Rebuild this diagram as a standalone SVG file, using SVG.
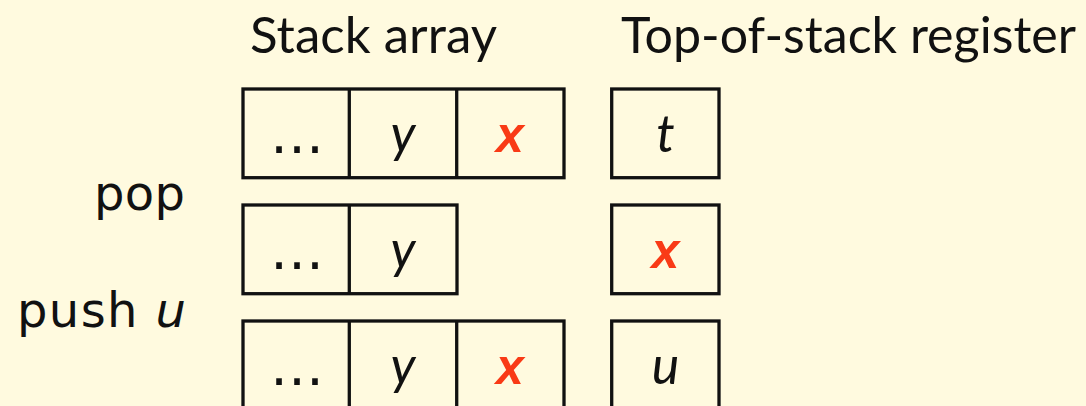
<svg xmlns="http://www.w3.org/2000/svg" width="1086" height="406" viewBox="0 0 1086 406">
<style>
.bg{fill:#FFFADF}
.box{fill:none;stroke:#111;stroke-width:3.3}
.hdr{font-family:Lato,"Open Sans",sans-serif;font-size:50px;fill:#111}
.op{font-family:"DejaVu Sans",sans-serif;font-size:48px;fill:#111}
.var{font-family:Lato,"Open Sans",sans-serif;font-style:italic;font-size:52px;fill:#111;text-anchor:middle}
.dots{font-family:"DejaVu Sans",sans-serif;font-size:54px;fill:#111;text-anchor:middle}
.red{font-family:"Liberation Sans",Arial,sans-serif;font-style:italic;font-weight:bold;font-size:50px;fill:#F93A16;text-anchor:middle}
</style>
<rect class="bg" x="0" y="0" width="1086" height="406"/>
<g id="headers">
<text class="hdr" x="250" y="53" textLength="247" lengthAdjust="spacingAndGlyphs">Stack array</text>
<text class="hdr" x="621" y="53" textLength="455" lengthAdjust="spacingAndGlyphs">Top-of-stack register</text>
</g>
<g id="labels">
<text class="op" x="94" y="210" textLength="91" lengthAdjust="spacing">pop</text>
<text class="op" x="17" y="327" textLength="169" lengthAdjust="spacing">push <tspan font-style="italic">u</tspan></text>
</g>
<g id="row1">
<rect class="box" x="243" y="89" width="321" height="88.7"/>
<line class="box" x1="349.3" y1="89" x2="349.3" y2="177.7"/>
<line class="box" x1="456.7" y1="89" x2="456.7" y2="177.7"/>
<text class="dots" x="297" y="153">…</text>
<text class="var" x="403" y="152">y</text>
<text class="red" x="510" y="152">x</text>
</g>
<g id="reg1">
<rect class="box" x="611.7" y="89" width="107.3" height="88.7"/>
<text class="var" x="665.4" y="152">t</text>
</g>
<g id="row2">
<rect class="box" x="243" y="205" width="214" height="88.7"/>
<line class="box" x1="349.3" y1="205" x2="349.3" y2="293.7"/>
<text class="dots" x="297" y="269">…</text>
<text class="var" x="403" y="268">y</text>
</g>
<g id="reg2">
<rect class="box" x="611.7" y="205" width="107.3" height="88.7"/>
<text class="red" x="665.4" y="268">x</text>
</g>
<g id="row3">
<rect class="box" x="243" y="321" width="321" height="88.7"/>
<line class="box" x1="349.3" y1="321" x2="349.3" y2="409.7"/>
<line class="box" x1="456.7" y1="321" x2="456.7" y2="409.7"/>
<text class="dots" x="297" y="385">…</text>
<text class="var" x="403" y="384">y</text>
<text class="red" x="510" y="384">x</text>
</g>
<g id="reg3">
<rect class="box" x="611.7" y="321" width="107.3" height="88.7"/>
<text class="var" x="665.4" y="384">u</text>
</g>
<g id="connectors"/>
</svg>
